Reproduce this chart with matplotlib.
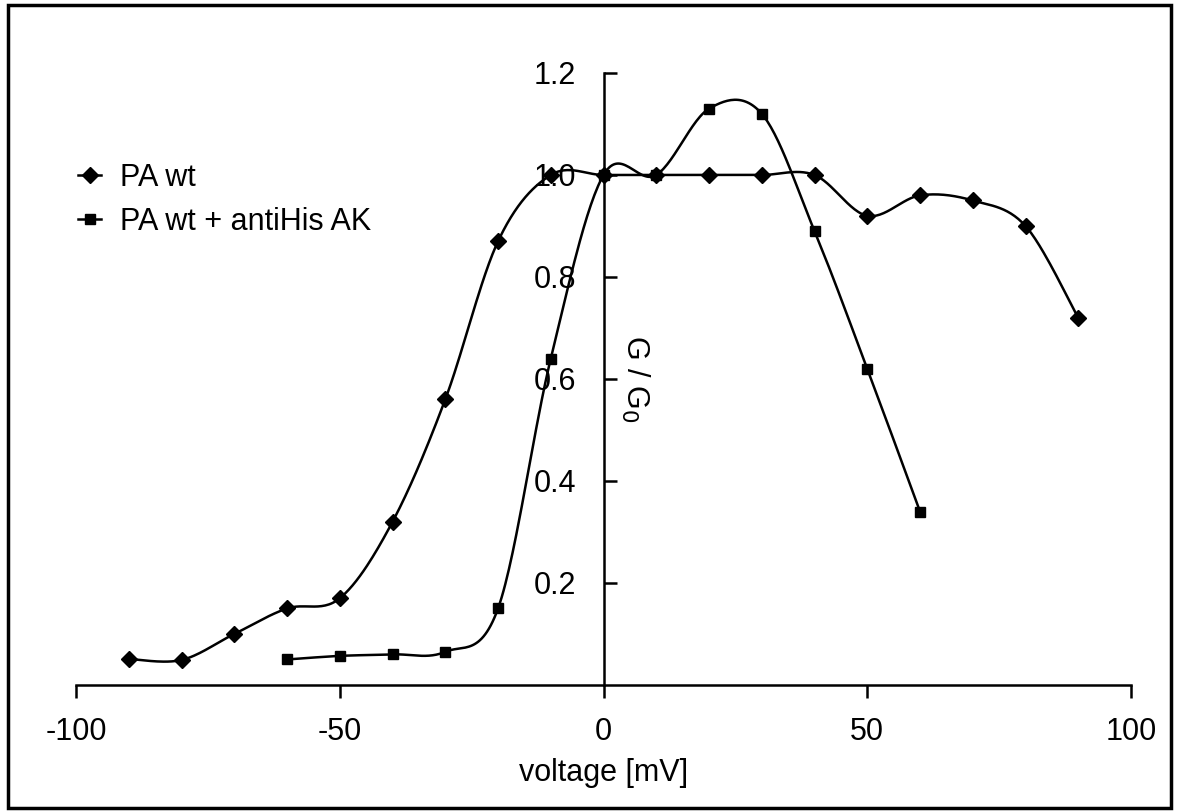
import numpy as np
import matplotlib.pyplot as plt
from matplotlib.patches import Rectangle

plt.rcParams['font.family'] = ['Liberation Sans', 'DejaVu Sans']

# data
volt_wt = [-90, -80, -70, -60, -50, -40, -30, -20, -10, 0, 10, 20, 30, 40, 50, 60, 70, 80, 90]
g_wt = [0.051, 0.049, 0.10, 0.15, 0.17, 0.32, 0.56, 0.87, 1.0, 1.0, 1.0, 1.0, 1.0, 1.0, 0.92, 0.96, 0.95, 0.90, 0.72]

volt_ab = [-60, -50, -40, -30, -20, -10, 0, 10, 20, 30, 40, 50, 60]
g_ab = [0.05, 0.057, 0.06, 0.065, 0.15, 0.64, 1.0, 1.0, 1.13, 1.12, 0.89, 0.62, 0.34]


def smooth(xs, ys, n=30):
    """Excel-like smoothed line (Catmull-Rom Bezier segments)."""
    p = np.column_stack([xs, ys]).astype(float)
    p = np.vstack([p[0], p, p[-1]])
    t = np.linspace(0, 1, n)[:, None]
    out = []
    for i in range(1, len(p) - 2):
        p0, p3 = p[i], p[i + 1]
        c1 = p0 + (p[i + 1] - p[i - 1]) / 6
        c2 = p3 - (p[i + 2] - p[i]) / 6
        seg = ((1 - t) ** 3) * p0 + 3 * ((1 - t) ** 2) * t * c1 + 3 * (1 - t) * t ** 2 * c2 + t ** 3 * p3
        out.append(seg)
    out = np.vstack(out)
    return out[:, 0], out[:, 1]


fig = plt.figure(figsize=(11.79, 8.11), dpi=100)
ax = fig.add_axes([0.0645, 0.1554, 0.8948, 0.7546])

sx, sy = smooth(volt_wt, g_wt)
ax.plot(sx, sy, color='black', lw=1.8)
ax.plot(volt_wt, g_wt, ls='none', marker='D', ms=8.5, color='black')
sx, sy = smooth(volt_ab, g_ab)
ax.plot(sx, sy, color='black', lw=1.8)
ax.plot(volt_ab, g_ab, ls='none', marker='s', ms=7, color='black')

# legend proxies
h1, = ax.plot([], [], color='black', lw=1.8, marker='D', ms=8.5)
h2, = ax.plot([], [], color='black', lw=1.8, marker='s', ms=7)
ax.legend([h1, h2], ['PA wt', 'PA wt + antiHis AK'], loc='upper left',
          bbox_to_anchor=(0.0665, 0.799), bbox_transform=fig.transFigure,
          frameon=False, fontsize=22, handlelength=0.75, handletextpad=0.6,
          labelspacing=0.45, borderaxespad=0, borderpad=0)

ax.set_xlim(-100, 100)
ax.set_ylim(0, 1.2)
ax.spines['left'].set_position(('data', 0))
ax.spines['bottom'].set_position(('data', 0))
ax.spines['top'].set_visible(False)
ax.spines['right'].set_visible(False)
for s in ['left', 'bottom']:
    ax.spines[s].set_linewidth(1.8)

ax.set_xticks([-100, -50, 0, 50, 100])
ax.set_xticklabels(['-100', '-50', '0', '50', '100'])
ax.set_yticks([0.2, 0.4, 0.6, 0.8, 1.0, 1.2])
ax.set_yticklabels(['0.2', '0.4', '0.6', '0.8', '1.0', '1.2'])
ax.tick_params(axis='x', direction='out', length=9, width=1.8, labelsize=22, pad=14)
ax.tick_params(axis='y', direction='in', length=9, width=1.8, labelsize=22, pad=20)

ax.set_xlabel('voltage [mV]', fontsize=22, labelpad=8)
ax.text(6, 0.6, 'G / G$_0$', rotation=270, fontsize=22, ha='center', va='center')

fig.patches.append(Rectangle((0.007, 0.004), 0.986, 0.99, transform=fig.transFigure,
                             fill=False, lw=2.5, edgecolor='black'))

fig.savefig('out.png', dpi=100)
